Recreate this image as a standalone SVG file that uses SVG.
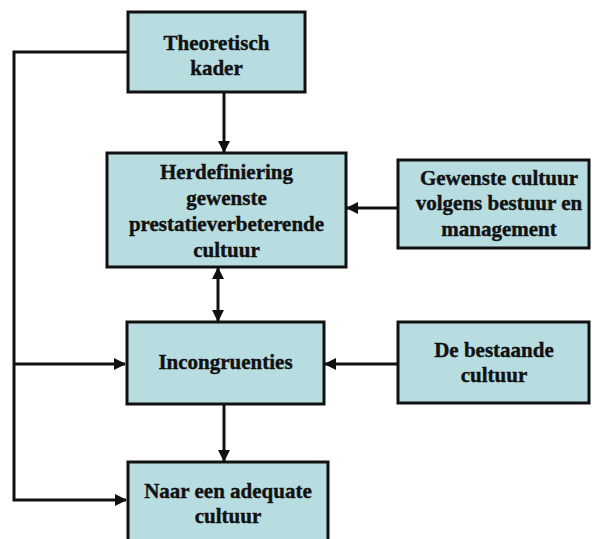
<svg xmlns="http://www.w3.org/2000/svg" width="592" height="539" viewBox="0 0 592 539">
  <style>
    .box { fill: #B8DDE1; stroke: #111; stroke-width: 3; }
    .lbl { font-family: 'Liberation Serif', 'Times New Roman', serif; font-weight: bold; font-size: 21px; fill: #111; stroke: #111; stroke-width: 0.4; text-anchor: middle; }
    .wire { fill: none; stroke: #111; stroke-width: 3; }
  </style>
  <defs>
    <marker id="arrow" viewBox="0 0 12 12" refX="11" refY="6" markerWidth="12" markerHeight="12" markerUnits="userSpaceOnUse" orient="auto-start-reverse">
      <path d="M0,0 L12,6 L0,12 Z" fill="#111"/>
    </marker>
  </defs>
  <rect width="592" height="539" fill="#fff"/>

  <g id="connectors">
    <!-- feedback line on the left -->
    <polyline class="wire" points="128,52 14,52 14,500 126,500" marker-end="url(#arrow)"/>
    <line class="wire" x1="14" y1="364" x2="125" y2="364" marker-end="url(#arrow)"/>
    <!-- vertical flow -->
    <line class="wire" x1="224" y1="92" x2="224" y2="152" marker-end="url(#arrow)"/>
    <line class="wire" x1="218" y1="268" x2="218" y2="321" marker-start="url(#arrow)" marker-end="url(#arrow)"/>
    <line class="wire" x1="224" y1="404" x2="224" y2="461" marker-end="url(#arrow)"/>
    <!-- inputs from the right -->
    <line class="wire" x1="398" y1="208" x2="347" y2="208" marker-end="url(#arrow)"/>
    <line class="wire" x1="398" y1="364" x2="325" y2="364" marker-end="url(#arrow)"/>
  </g>

  <g id="theoretisch-kader">
    <rect class="box" x="128" y="12" width="177" height="80"/>
    <text class="lbl" x="216.5" y="50">Theoretisch</text>
    <text class="lbl" x="216.5" y="75">kader</text>
  </g>

  <g id="herdefiniering">
    <rect class="box" x="107" y="153" width="239" height="114"/>
    <text class="lbl" x="226.5" y="179">Herdefiniering</text>
    <text class="lbl" x="226.5" y="205">gewenste</text>
    <text class="lbl" x="226.5" y="231">prestatieverbeterende</text>
    <text class="lbl" x="226.5" y="257">cultuur</text>
  </g>

  <g id="gewenste-cultuur">
    <rect class="box" x="398" y="160" width="191" height="88"/>
    <text class="lbl" x="499" y="185">Gewenste cultuur</text>
    <text class="lbl" x="499" y="210">volgens bestuur en</text>
    <text class="lbl" x="499" y="236">management</text>
  </g>

  <g id="incongruenties">
    <rect class="box" x="127" y="322" width="197" height="82"/>
    <text class="lbl" x="225.5" y="369">Incongruenties</text>
  </g>

  <g id="bestaande-cultuur">
    <rect class="box" x="398" y="322" width="191" height="81"/>
    <text class="lbl" x="494" y="357">De bestaande</text>
    <text class="lbl" x="494" y="382">cultuur</text>
  </g>

  <g id="adequate-cultuur">
    <rect class="box" x="128" y="462" width="200" height="80"/>
    <text class="lbl" x="228" y="498">Naar een adequate</text>
    <text class="lbl" x="228" y="523">cultuur</text>
  </g>
</svg>
